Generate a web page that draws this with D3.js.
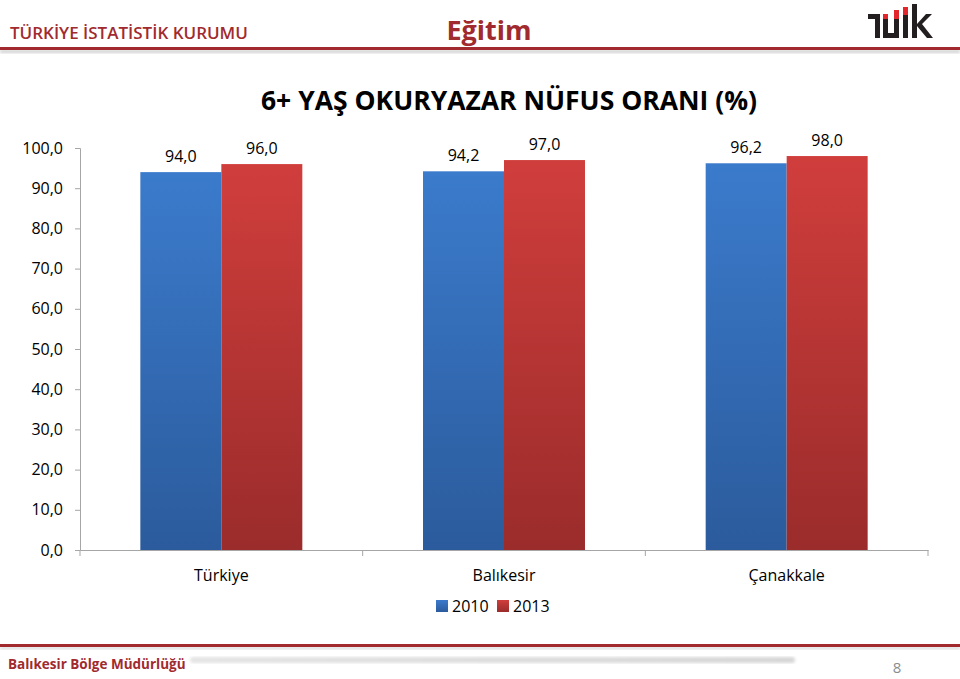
<!DOCTYPE html>
<html>
<head>
<meta charset="utf-8">
<script src="https://cdn.jsdelivr.net/npm/d3@7"></script>
<style>
  body { margin: 0; background: #fff; }
  svg { display: block; font-family: "Open Sans", sans-serif; }
  .axis path, .axis line { stroke: #a6a6a6; }
  .axis text { font-size: 16px; fill: #000; font-family: "Open Sans", sans-serif; }
  .value { font-size: 16px; fill: #000; }
</style>
</head>
<body>
<svg width="960" height="679"></svg>
<script>
const categories = ['Türkiye', 'Balıkesir', 'Çanakkale'];
const seriesNames = ['2010', '2013'];
const values2010 = [94.0, 94.2, 96.2];
const values2013 = [96.0, 97.0, 98.0];
const yTicks = [0, 10, 20, 30, 40, 50, 60, 70, 80, 90, 100];

const data = categories.map((c, i) => ({
    category: c,
    values: [
        { series: '2010', value: values2010[i] },
        { series: '2013', value: values2013[i] }
    ]
}));

const tr = d3.formatLocale({ decimal: ',', thousands: '.', grouping: [3], currency: ['', ''] });
const fmt = tr.format('.1f');

const svg = d3.select('svg');
const darkRed = '#a12a2e';

const defs = svg.append('defs');
const grad = (id, c1, c2) => {
    const g = defs.append('linearGradient')
        .attr('id', id)
        .attr('x1', 0).attr('y1', 0).attr('x2', 0).attr('y2', 1);
    g.append('stop').attr('offset', '0%').attr('stop-color', c1);
    g.append('stop').attr('offset', '100%').attr('stop-color', c2);
};
grad('g2010', '#3b7bcc', '#2b5b9c');
grad('g2013', '#d03e3c', '#9a2c2b');

defs.append('filter').attr('id', 'blur')
    .append('feGaussianBlur').attr('stdDeviation', 1.5);
const fg = defs.append('linearGradient').attr('id', 'footerGrad');
fg.append('stop').attr('offset', '0%').attr('stop-color', '#e4e4e4');
fg.append('stop').attr('offset', '100%').attr('stop-color', '#d6d6d6');

// header
svg.append('text')
    .attr('x', 10).attr('y', 39)
    .attr('fill', darkRed)
    .style('font-size', '17px')
    .style('font-weight', '600')
    .text('TÜRKİYE İSTATİSTİK KURUMU');

svg.append('text')
    .attr('x', 489).attr('y', 40)
    .attr('text-anchor', 'middle')
    .attr('fill', darkRed)
    .style('font-size', '27px')
    .style('font-weight', 'bold')
    .text('Eğitim');

svg.append('rect')
    .attr('x', 0).attr('y', 50).attr('width', 960).attr('height', 3)
    .attr('fill', '#cfcfcf').attr('filter', 'url(#blur)');
svg.append('rect')
    .attr('x', 0).attr('y', 47).attr('width', 960).attr('height', 3)
    .attr('fill', darkRed);

// logo
const logo = svg.append('g').attr('transform', 'translate(868, 4)');
logo.append('path').attr('d', 'M0,10 h12 v24 h-5 v-19 h-7 z').attr('fill', '#231f20');
logo.append('path').attr('d', 'M15,12 h5 v17 h6 v-17 h5 v22 h-16 z').attr('fill', '#231f20');
logo.append('rect').attr('x', 15).attr('y', 10).attr('width', 5).attr('height', 5).attr('fill', '#e3262b');
logo.append('rect').attr('x', 26).attr('y', 6).attr('width', 5).attr('height', 9).attr('fill', '#e3262b');
logo.append('rect').attr('x', 35).attr('y', 3).attr('width', 5).attr('height', 31).attr('fill', '#231f20');
logo.append('rect').attr('x', 35).attr('y', 3).attr('width', 5).attr('height', 8).attr('fill', '#e3262b');
logo.append('rect').attr('x', 44).attr('y', 0).attr('width', 5).attr('height', 34).attr('fill', '#231f20');
logo.append('path').attr('d', 'M49,20 L58,10 h6 L54,20 L65,34 h-6 L49,22 z').attr('fill', '#231f20');

// title
svg.append('text')
    .attr('x', 509).attr('y', 110)
    .attr('text-anchor', 'middle')
    .style('font-size', '26.5px')
    .style('font-weight', 'bold')
    .text('6+ YAŞ OKURYAZAR NÜFUS ORANI (%)');

// chart
const plotLeft = 80, plotRight = 928, plotTop = 148, plotBottom = 550;

const x0 = d3.scaleBand()
    .domain(categories)
    .range([plotLeft, plotRight])
    .padding(0);

const x1 = d3.scaleBand()
    .domain(seriesNames)
    .range([0, x0.bandwidth()])
    .paddingInner(0)
    .paddingOuter(0.745);

const y = d3.scaleLinear()
    .domain([0, 100])
    .range([plotBottom, plotTop]);

svg.append('g')
    .attr('class', 'axis')
    .attr('transform', `translate(${plotLeft}, 0)`)
    .call(d3.axisLeft(y).tickValues(yTicks).tickSize(5).tickPadding(12).tickFormat(fmt));

const xAxis = svg.append('g')
    .attr('class', 'axis')
    .attr('transform', `translate(0, ${plotBottom})`)
    .call(d3.axisBottom(x0).tickSize(0).tickSizeOuter(0).tickFormat(''));
xAxis.selectAll('.boundary')
    .data(d3.range(categories.length + 1))
    .enter()
    .append('line')
    .attr('x1', (i) => plotLeft + i * x0.step())
    .attr('x2', (i) => plotLeft + i * x0.step())
    .attr('y1', 0).attr('y2', 6)
    .attr('stroke', '#a6a6a6');

svg.append('g')
    .selectAll('text')
    .data(categories)
    .enter()
    .append('text')
    .attr('x', (c) => x0(c) + x0.bandwidth() / 2)
    .attr('y', 581)
    .attr('text-anchor', 'middle')
    .style('font-size', '16px')
    .text((c) => c);

const groups = svg.append('g')
    .selectAll('g')
    .data(data)
    .enter()
    .append('g')
    .attr('transform', (d) => `translate(${x0(d.category)}, 0)`);

groups.selectAll('rect')
    .data((d) => d.values)
    .enter()
    .append('rect')
    .attr('x', (v) => x1(v.series))
    .attr('y', (v) => y(v.value))
    .attr('width', x1.bandwidth())
    .attr('height', (v) => plotBottom - y(v.value))
    .attr('fill', (v) => `url(#g${v.series})`);

groups.selectAll('text')
    .data((d) => d.values)
    .enter()
    .append('text')
    .attr('class', 'value')
    .attr('x', (v) => x1(v.series) + x1.bandwidth() / 2)
    .attr('y', (v) => y(v.value) - 10)
    .attr('text-anchor', 'middle')
    .text((v) => fmt(v.value));

// legend
const legend = svg.append('g').attr('transform', 'translate(436, 606)');
const legendItems = legend.selectAll('g')
    .data(seriesNames)
    .enter()
    .append('g')
    .attr('transform', (s, i) => `translate(${i * 61}, 0)`);
legendItems.append('rect')
    .attr('x', 0).attr('y', -6)
    .attr('width', 12).attr('height', 12)
    .attr('fill', (s) => `url(#g${s})`);
legendItems.append('text')
    .attr('x', 16).attr('y', 6)
    .style('font-size', '16px')
    .text((s) => s);

// footer
svg.append('rect')
    .attr('x', 0).attr('y', 647).attr('width', 960).attr('height', 2)
    .attr('fill', '#cfcfcf').attr('filter', 'url(#blur)');
svg.append('rect')
    .attr('x', 0).attr('y', 644).attr('width', 960).attr('height', 3)
    .attr('fill', darkRed);

svg.append('rect')
    .attr('x', 190).attr('y', 657).attr('width', 605).attr('height', 6)
    .attr('rx', 3)
    .attr('fill', 'url(#footerGrad)')
    .attr('filter', 'url(#blur)');

svg.append('text')
    .attr('x', 8).attr('y', 669)
    .attr('fill', darkRed)
    .style('font-size', '13.5px')
    .style('font-weight', 'bold')
    .text('Balıkesir Bölge Müdürlüğü');

svg.append('text')
    .attr('x', 897).attr('y', 673)
    .attr('text-anchor', 'middle')
    .attr('fill', '#8c8c8c')
    .style('font-size', '15px')
    .text('8');
</script>
</body>
</html>
